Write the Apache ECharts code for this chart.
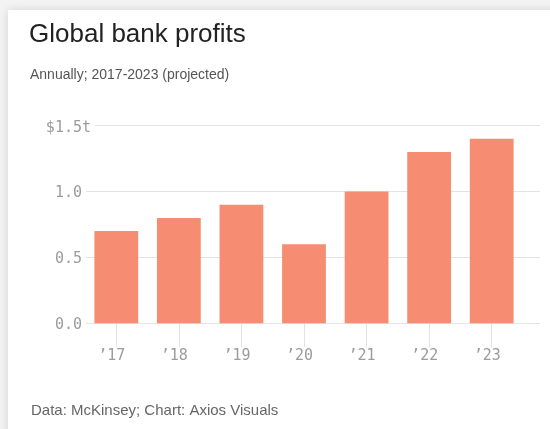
<!DOCTYPE html>
<html>
<head>
<meta charset="utf-8">
<title>Global bank profits</title>
<script src="https://cdn.jsdelivr.net/npm/echarts@6/dist/echarts.min.js"></script>
<style>
  html, body { margin: 0; padding: 0; width: 550px; height: 429px; overflow: hidden; background: #f3f3f3; }
  #card { position: absolute; left: 8px; top: 10px; width: 560px; height: 440px; background: #fff;
          box-shadow: 0 0 9px rgba(0,0,0,0.13); }
  #chart { position: absolute; left: 0; top: 0; width: 550px; height: 429px; }
</style>
</head>
<body>
<div id="card"></div>
<div id="chart"></div>
<script>
// Global bank profits, trillions of US dollars
const years = ['’17', '’18', '’19', '’20', '’21', '’22', '’23'];
const profits = [0.7, 0.8, 0.9, 0.6, 1.0, 1.3, 1.4];
const yTickLabels = ['0.0', '0.5', '1.0', '$1.5t'];

const monoFont = '"DejaVu Sans Mono", "Liberation Mono", monospace';
const sansFont = '"Liberation Sans", Arial, sans-serif';
const gridColor = '#e3e3e3';
const labelColor = '#9c9c9c';
const barColor = '#f68d72';

const chart = echarts.init(document.getElementById('chart'), null, { renderer: 'canvas' });

chart.setOption({
  animation: false,
  backgroundColor: 'transparent',
  title: [
    { text: 'Global bank profits', left: 29, top: 22, padding: 0,
      textStyle: { fontFamily: sansFont, fontSize: 26, fontWeight: 'normal', color: '#222' } },
    { text: 'Annually; 2017-2023 (projected)', left: 30, top: 68, padding: 0,
      textStyle: { fontFamily: sansFont, fontSize: 14, fontWeight: 'normal', color: '#555' } },
    { text: 'Data: McKinsey; Chart: Axios Visuals', left: 31, top: 403, padding: 0,
      textStyle: { fontFamily: sansFont, fontSize: 15, fontWeight: 'normal', color: '#666' } }
  ],
  grid: [
    // gridlines and value labels span the full plot width
    { left: 86, right: 10, top: 125.7, bottom: 105.7 },
    // the bars sit in a slightly narrower band
    { left: 85, right: 27, top: 125.7, bottom: 105.7 }
  ],
  xAxis: [
    { type: 'category', gridIndex: 0, data: years, show: false },
    {
      type: 'category', gridIndex: 1, data: years,
      axisLine: { show: false },
      axisTick: { show: true, alignWithLabel: true, length: 24, lineStyle: { color: gridColor } },
      axisLabel: {
        margin: 25, color: labelColor, fontFamily: monoFont, fontSize: 15,
        padding: [0, 9, 0, 0]
      }
    }
  ],
  yAxis: [
    {
      type: 'value', gridIndex: 0, min: 0, max: 1.5, interval: 0.5,
      axisLine: { show: false }, axisTick: { show: false },
      splitLine: { lineStyle: { color: gridColor, width: 1 } },
      axisLabel: {
        margin: -9,
        formatter: function (value, index) {
          const label = yTickLabels[index];
          return index === yTickLabels.length - 1 ? '{top|' + label + '}' : '{n|' + label + '}';
        },
        rich: {
          top: { fontFamily: monoFont, fontSize: 15, color: labelColor, padding: [4, 4, 0, 0],
                 backgroundColor: '#fff' },
          n: { fontFamily: monoFont, fontSize: 15, color: labelColor, padding: [4, 13, 0, 0] }
        }
      }
    },
    { type: 'value', gridIndex: 1, min: 0, max: 1.5, interval: 0.5, show: false }
  ],
  series: [
    {
      type: 'bar', xAxisIndex: 1, yAxisIndex: 1, data: profits,
      barCategoryGap: '30%',
      itemStyle: { color: barColor },
      silent: true
    }
  ]
});
</script>
</body>
</html>
